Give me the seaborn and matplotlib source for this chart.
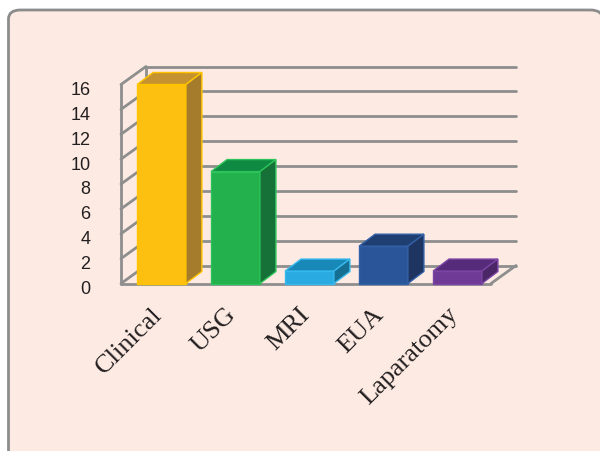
import matplotlib
matplotlib.use("Agg")
import matplotlib.pyplot as plt
import matplotlib.transforms as mtransforms
from matplotlib.patches import Polygon, FancyBboxPatch
from matplotlib.lines import Line2D
import seaborn as sns
import pandas as pd

categories = ["Clinical", "USG", "MRI", "EUA", "Laparatomy"]
values = [16, 9, 1, 3, 1]
yticks = [0, 2, 4, 6, 8, 10, 12, 14, 16]

front_colors = ["#FDC010", "#22B14C", "#29ABE2", "#2A5699", "#6F3A96"]
top_colors = ["#C4922E", "#0F8A43", "#1788B8", "#1F3F72", "#562C7A"]
side_colors = ["#A57C2C", "#157137", "#146F92", "#1D3560", "#4B2767"]
edge_colors = ["#FFC400", "#2DC35A", "#38B9EE", "#3361A8", "#7C45A5"]

bg = "#FDEBE3"
grid_c = "#8E8E8E"

sns.set_theme(style="white")
plt.rcParams["font.family"] = ["Liberation Sans", "DejaVu Sans"]

fig = plt.figure(figsize=(6.0, 4.51), dpi=100)
fig.patch.set_facecolor("white")
# rounded panel background
panel = FancyBboxPatch((8.5 / 600, -0.05), 0.99, (451 - 10) / 451 + 0.05,
                       boxstyle="round,pad=0,rounding_size=0.02",
                       transform=fig.transFigure, facecolor=bg,
                       edgecolor="#8C8C8C", linewidth=2, zorder=-10)
fig.patches.append(panel)

ax = fig.add_axes([121 / 600, (451 - 283.5) / 451, 370 / 600, 199 / 451])
ax.set_facecolor("none")
ax.set_zorder(1)

df = pd.DataFrame({"cat": categories, "val": values})
sns.barplot(data=df, x="cat", y="val", hue="cat", palette=front_colors,
            legend=False, width=0.66, ax=ax, zorder=3, saturation=1)

ax.set_xlim(-0.547, 4.453)
ax.set_ylim(0, 16)

px = 72 / 100.0
wall_dx, wall_dy = 25 * px, 18 * px
bar_dx, bar_dy = 16 * px, 12 * px
wall_off = mtransforms.offset_copy(ax.transData, fig=fig, x=wall_dx, y=wall_dy, units="points")

lw = 2.0
x0, x1 = ax.get_xlim()
for v in yticks:
    ax.add_line(Line2D([x0, x1], [v, v], transform=wall_off, color=grid_c,
                       lw=lw, zorder=1, clip_on=False))
for v in yticks:
    p0 = ax.transData.transform((x0, v))
    p1 = wall_off.transform((x0, v))
    ax.add_line(Line2D([p0[0], p1[0]], [p0[1], p1[1]], transform=None,
                       color=grid_c, lw=lw, zorder=1, clip_on=False))
ax.add_line(Line2D([x0, x0], [0, 16], transform=wall_off, color=grid_c,
                   lw=lw, zorder=1, clip_on=False))
p0 = ax.transData.transform((x1, 0))
p1 = wall_off.transform((x1, 0))
ax.add_line(Line2D([p0[0], p1[0]], [p0[1], p1[1]], transform=None,
                   color=grid_c, lw=lw, zorder=1, clip_on=False))
ax.add_line(Line2D([x0, x1], [0, 0], transform=ax.transData, color=grid_c,
                   lw=lw, zorder=2, clip_on=False))
ax.add_line(Line2D([x0, x0], [0, 16], transform=ax.transData, color=grid_c,
                   lw=lw, zorder=2, clip_on=False))

bar_off = mtransforms.offset_copy(ax.transData, fig=fig, x=bar_dx, y=bar_dy, units="points")
for i, patch in enumerate(list(ax.patches)):
    bx = patch.get_x()
    bw = patch.get_width()
    bh = patch.get_height()
    patch.set_edgecolor(edge_colors[i])
    patch.set_linewidth(1.0)
    patch.set_clip_on(False)
    fl_t = ax.transData.transform((bx, bh))
    fr_t = ax.transData.transform((bx + bw, bh))
    fr_b = ax.transData.transform((bx + bw, 0))
    bl_t = bar_off.transform((bx, bh))
    br_t = bar_off.transform((bx + bw, bh))
    br_b = bar_off.transform((bx + bw, 0))
    top = Polygon([fl_t, fr_t, br_t, bl_t], closed=True, transform=None,
                  facecolor=top_colors[i], edgecolor=edge_colors[i], lw=1.0,
                  zorder=3, clip_on=False)
    side = Polygon([fr_b, fr_t, br_t, br_b], closed=True, transform=None,
                   facecolor=side_colors[i], edgecolor=edge_colors[i], lw=1.0,
                   zorder=3, clip_on=False)
    ax.add_patch(top)
    ax.add_patch(side)

for s in ax.spines.values():
    s.set_visible(False)

ax.set_xlabel("")
ax.set_ylabel("")
ax.set_yticks(yticks)
ax.set_yticklabels([str(v) for v in yticks], fontsize=13, color="#231F20")
ax.tick_params(axis="y", length=0, pad=22)
shift = mtransforms.ScaledTranslation(0, -4 / 100, fig.dpi_scale_trans)
for lab in ax.get_yticklabels():
    lab.set_transform(lab.get_transform() + shift)

ax.set_xticks(range(len(categories)))
ax.set_xticklabels(categories, rotation=45, ha="right", va="center",
                   rotation_mode="anchor", fontsize=19,
                   family=["Liberation Serif", "DejaVu Serif"], color="#231F20")
ax.tick_params(axis="x", length=0, pad=20)
xshift = mtransforms.ScaledTranslation(-3 / 100, 0, fig.dpi_scale_trans)
for lab in ax.get_xticklabels():
    lab.set_transform(lab.get_transform() + xshift)

fig.savefig("out.png", dpi=100, facecolor="white")
